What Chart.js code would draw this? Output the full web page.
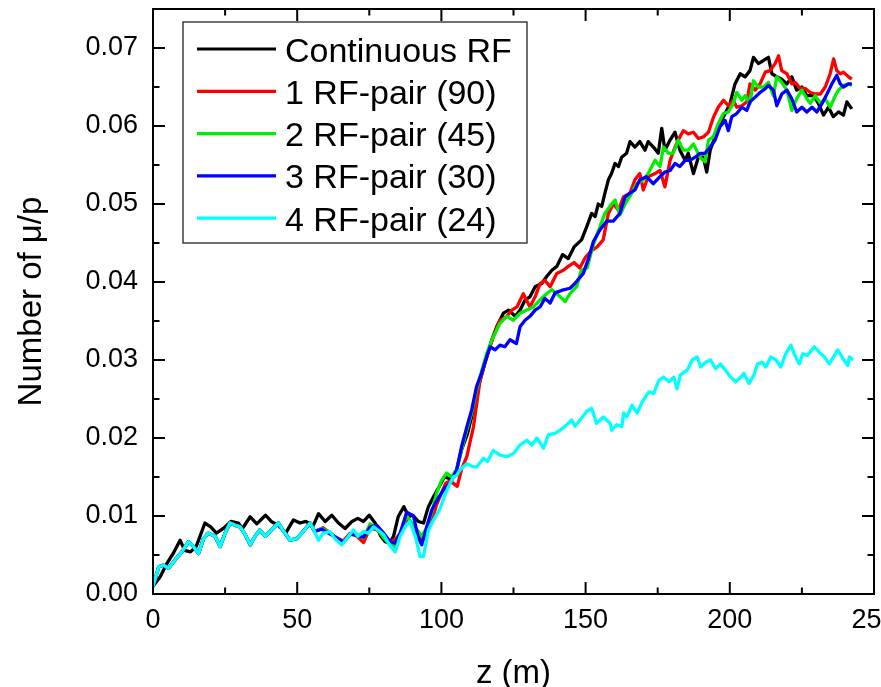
<!DOCTYPE html>
<html>
<head>
<meta charset="utf-8">
<script src="https://cdn.jsdelivr.net/npm/chart.js@4.4.1/dist/chart.umd.min.js"></script>
<style>
  html, body { margin: 0; padding: 0; background: #fff; }
  canvas { display: block; }
</style>
</head>
<body>
<canvas id="c" width="881" height="687"></canvas>
<script>
// ---------------- data ----------------
const seriesNames = ["Continuous RF", "1 RF-pair (90)", "2 RF-pair (45)", "3 RF-pair (30)", "4 RF-pair (24)"];
const xTitle = "z (m)";
const yTitle = "Number of \u03BC/p";
const xTicks = [0, 50, 100, 150, 200, 250];
const xTickLabels = ["0", "50", "100", "150", "200", "250"];
const yTicks = [0, 0.01, 0.02, 0.03, 0.04, 0.05, 0.06, 0.07];
const yTickLabels = ["0.00", "0.01", "0.02", "0.03", "0.04", "0.05", "0.06", "0.07"];

// Continuous RF
const blackZ = [0,2.5,4.8,7,9.4,11,13,15,18,20,22,24.4,27,29.6,31,33.7,36,39,41,43.5,46,48.7,51,53,55.6,57.4,59.7,62,64.3,66.6,69,71,73,75,77,79,80.5,82,83.4,85,87,88.6,90,92,93.8,95.5,97.3,99.6,101,103,105,107,109,111,113,115,117.5,119.2,121.5,123.3,125.6,127.3,129,130.7,132.5,134.8,136.5,138.3,140,142,144,146,148.6,150.4,152.1,153.3,154.4,155.6,156.7,157.9,159,160.2,161.4,162.5,164.2,165.4,167.1,168.8,170.6,171.7,173.5,175.2,176.4,177.5,179.3,181,182.7,184.5,185.6,187.4,189.1,190.8,192,193.2,194.9,196.6,198.4,200.1,201.8,203.6,205.3,207,208.2,209.9,211.7,213.4,214.6,216.3,218,219.8,221.5,223.2,225,226.7,229,230.7,232.5,234.2,235.9,237.7,239.4,240.6,242.3];
const blackV = [.001,.0022,.0039,.0052,.0069,.0056,.0054,.0061,.0091,.0086,.0078,.0084,.0093,.0091,.0084,.0099,.009,.0101,.0093,.0088,.0078,.0095,.0091,.0093,.0088,.0103,.0093,.0101,.0091,.0084,.0093,.0097,.0093,.0101,.0091,.0074,.0067,.0065,.0074,.0099,.0112,.0099,.0101,.0093,.0091,.0112,.0125,.014,.015,.0148,.0155,.0185,.0205,.0235,.0268,.0295,.0326,.0343,.036,.0364,.0356,.0364,.0377,.0381,.0394,.0398,.0407,.0415,.042,.0435,.043,.0445,.0454,.0471,.0488,.0484,.05,.0497,.0514,.0531,.0539,.0552,.0548,.056,.0565,.058,.0573,.058,.0569,.058,.0573,.0565,.0597,.0569,.0582,.0592,.0569,.0556,.0565,.0539,.056,.056,.0541,.0569,.0586,.0603,.0616,.0629,.0654,.0667,.0663,.0671,.0688,.068,.0684,.0688,.0667,.0663,.066,.0654,.0663,.0646,.065,.0639,.0639,.0629,.0614,.0624,.0612,.0618,.0614,.0631,.0622];

// shared early segment (all RF-pair curves overlap the 4-pair curve here)
const earlyZ = [0,2,3.6,5.4,7.7,10,12.3,14,15.8,17.5,19.2,21.5,23.3,25,26.7,28.5,30.2,32,33.7,35.4,37,39,41,43.5,45,47.5,49.9,52,54.5,56];
const earlyV = [.001,.0035,.0037,.0033,.0044,.0054,.0067,.0061,.0052,.0071,.0078,.0074,.0061,.0078,.0091,.0088,.0086,.0076,.0063,.0074,.0082,.0074,.0082,.0091,.0082,.0069,.0071,.008,.0091,.008];

// 1 RF-pair (90)
const redZ = [57.4,59,61.4,63.7,66,68.4,70.7,73,75.3,77.6,80,82.2,84,85.7,88,90.3,92,93.2,94.9,96.7,98.4,100.1,101.5,103,105.5,107,108.8,111.1,113.4,115.7,118,120.3,122.7,124.4,126.2,128.4,130.7,132.5,134.2,135.9,137.7,140,142.3,144,146,148,150,152,154,156.1,157.9,159.6,161.4,163.1,165.4,167.1,168.8,170,171.7,174.1,175.8,177.5,179.3,181,182.7,183.9,185.6,187.4,189.1,190.8,192.6,194.3,196,197.8,199.5,201.2,202.4,204.2,205.9,207,208.8,210.5,212.3,214,215.7,216.9,218,219.8,221.5,222.7,224.4,226.2,227.9,229.6,231.4,233.1,234.8,236,237.1,238.3,239.4,241.2,242.3];
const redV = [.0082,.0085,.0078,.0072,.0068,.0078,.0074,.0066,.0085,.0082,.0076,.0067,.007,.0078,.0095,.0088,.0074,.0068,.008,.0095,.0115,.013,.0142,.0145,.0138,.016,.0176,.0214,.0274,.0304,.033,.0351,.0356,.0364,.0368,.0385,.0368,.0381,.0398,.0402,.0394,.0411,.0415,.042,.0425,.0418,.0432,.044,.0445,.0454,.0488,.05,.0492,.0509,.0514,.0531,.0539,.0518,.0535,.0539,.0543,.0522,.0556,.0573,.0586,.0594,.059,.0592,.0584,.0586,.0592,.0611,.0624,.0633,.0626,.0633,.0624,.0626,.0631,.0654,.0646,.0654,.0669,.0671,.068,.069,.0671,.0667,.0654,.0656,.0648,.0648,.0643,.0641,.0641,.065,.0667,.0686,.0671,.0667,.0669,.0663,.066];

// 2 RF-pair (45)
const greenZ = [57.4,58.5,61.4,63.7,66,68.4,70.7,73,75.3,77.6,80,82.2,84,85.7,88,90.3,92,93.2,94.9,96.7,98.4,100,101.8,103.5,105.3,107,108.8,110.5,112.2,113.9,115.7,117.5,120.3,122.7,125,127.3,129.6,131.9,134.2,136.5,138.3,141.2,142.9,144.6,146.9,148.5,150.5,152.7,155,156.7,158.4,160.2,161.9,163.7,166,167.7,170,171.7,174.1,175.8,177,178.7,180.4,182.1,183.9,185.6,187.4,189.7,191.4,192.6,194.3,196,197.8,199.5,201.2,202.4,204.2,205.3,207,208.2,209.9,211.7,213.4,215.1,216.3,218,219.8,221.5,223.2,225,226.7,227.9,229.6,231.4,233.1,234.8,236.6,237.7,239.4,241.2,242.3];
const greenV = [.0082,.0084,.0079,.0071,.0066,.0076,.0076,.0072,.009,.0084,.0072,.0063,.006,.0078,.01,.0088,.008,.0074,.0085,.0105,.013,.0145,.0155,.015,.016,.0185,.021,.0232,.0262,.0285,.0308,.0326,.0347,.0356,.0351,.036,.0364,.0368,.0377,.0385,.039,.0381,.0375,.0385,.0394,.0415,.0418,.0448,.0471,.0488,.0497,.0505,.0486,.05,.0514,.0526,.0531,.0539,.0556,.0548,.0573,.0565,.0565,.0582,.0569,.0569,.0577,.056,.0554,.0582,.0586,.0603,.0616,.0618,.0629,.0643,.0633,.0639,.0629,.0658,.065,.065,.0656,.0639,.0663,.0656,.0646,.062,.0635,.0646,.0635,.0629,.0639,.0629,.0635,.0624,.0639,.0646,.0652,.0654,.0652];

// 3 RF-pair (30)
const blueZ = [57.4,58.5,61.4,63.7,66,68.4,70.7,73,75.3,77.6,80,82.2,84,85.7,88,90.3,92,93.2,94.9,96.7,98.9,101,103,105.3,107,108.8,110.5,112.2,113.9,115.7,116.9,118.6,120.3,122,123.8,126,127.3,129,130.7,132.5,134.2,135.9,137.7,139.4,142.3,144.6,146.3,149.2,151,152.7,155,157.3,159.6,161.9,163.7,165.4,167.1,168.8,171.1,173.5,175.8,177.5,179.3,181,182.7,184.5,186.2,188,189.7,191.4,193.2,194.9,196.6,198.4,199.5,200.7,202.4,204.2,205.9,207,208.8,210.5,212.3,213.4,215.1,216.3,218,219.8,221.5,223.2,225,226.7,228.5,230.2,232,233.7,235.4,237.1,238.3,239.4,241.2,242.3];
const blueV = [.0082,.0083,.0077,.0072,.0066,.0077,.0075,.0073,.0086,.0088,.0078,.0067,.0065,.0078,.0105,.01,.0072,.0063,.0086,.0108,.0123,.0135,.0142,.0159,.0189,.0214,.0236,.0266,.0283,.0304,.0317,.0313,.0319,.0317,.0326,.0321,.0343,.0351,.0356,.0364,.0368,.0379,.0373,.0386,.039,.0392,.0398,.0411,.043,.0452,.0467,.0478,.0478,.0488,.0509,.0514,.0518,.0531,.0535,.0526,.0535,.0541,.0543,.0552,.0548,.0556,.0556,.056,.0565,.0565,.0573,.0582,.0599,.0607,.0594,.0612,.0616,.0624,.062,.0631,.0637,.0643,.0648,.0652,.0646,.0626,.0641,.0646,.0635,.0618,.0624,.0618,.0624,.0618,.0629,.0641,.0654,.0665,.0654,.065,.0654,.0654];

// 4 RF-pair (24)
const cyanZ = [57.4,59,61.4,63,65.5,67.8,69.5,71,73,74.7,76.5,78,80,82,84,85.7,87.4,89,91,92.6,93.8,95.5,97.3,99.6,101,102.5,104.1,105.3,106.4,108.8,111,112.3,114.6,116,118,120.3,122.7,125,127.3,129.6,131.4,133.1,135.4,137.1,139.4,141.2,142.9,145.2,146.3,148.1,150.4,152.1,153.8,156.2,158.5,159.1,160.8,162.6,163.2,164.3,166.1,167.9,169.6,171.9,173.6,175.4,177.1,178.9,180.6,181.7,182.9,185.2,187,188.7,189.9,191.6,193.3,195.1,196.8,198.5,200.3,202,203.8,204.9,206.7,208.4,209.6,211.3,212.5,214.2,216,217.7,219.4,221.2,222.3,224.1,225.3,227,229.3,231,232.8,234.5,236.3,237.4,239.2,240.9,241.5,242.7];
const cyanV = [.0069,.0078,.008,.0071,.0063,.0074,.0082,.0074,.008,.0078,.0086,.0082,.0076,.0063,.0054,.0074,.0086,.0093,.0074,.0048,.0048,.0082,.0095,.011,.0125,.0138,.015,.0152,.0159,.0167,.0163,.0163,.0174,.017,.0184,.0178,.0176,.018,.0191,.0197,.0191,.02,.0187,.0204,.0206,.021,.0215,.0223,.0215,.0223,.0234,.0238,.0219,.0227,.0219,.021,.0217,.0215,.0232,.0227,.0242,.0232,.0246,.0259,.0257,.0274,.0278,.0272,.0278,.0263,.0281,.0287,.03,.0304,.0291,.0297,.03,.0289,.0295,.0287,.0278,.0272,.0278,.0283,.027,.0281,.0295,.0297,.0291,.0304,.03,.0291,.0308,.0319,.0308,.0295,.0308,.0306,.0317,.031,.0304,.0295,.0306,.0313,.0302,.0293,.0304,.03];

// ---------------- styling ----------------
const seriesColors = ["#000000", "#ff0000", "#00ee00", "#0000ff", "#00ffff"];
const FONT = '"Liberation Sans", Arial, Helvetica, sans-serif';

function pts(zs, vs) { return zs.map((z, i) => ({ x: z, y: vs[i] })); }
const seriesData = [
  pts(blackZ, blackV),
  pts(earlyZ.concat(redZ), earlyV.concat(redV)),
  pts(earlyZ.concat(greenZ), earlyV.concat(greenV)),
  pts(earlyZ.concat(blueZ), earlyV.concat(blueV)),
  pts(earlyZ.concat(cyanZ), earlyV.concat(cyanV))
];

const datasets = seriesNames.map((name, i) => ({
  label: name,
  data: seriesData[i],
  borderColor: seriesColors[i],
  backgroundColor: seriesColors[i],
  borderWidth: 3.3,
  borderJoinStyle: 'round',
  pointRadius: 0,
  tension: 0,
  fill: false,
  order: seriesNames.length - 1 - i
}));

const bgPlugin = {
  id: 'bg',
  beforeDraw(chart) {
    const c = chart.ctx;
    c.save(); c.fillStyle = '#fff'; c.fillRect(0, 0, chart.width, chart.height); c.restore();
  }
};

const framePlugin = {
  id: 'frame',
  afterDatasetsDraw(chart) {
    const c = chart.ctx, a = chart.chartArea;
    const xs = chart.scales.x, ys = chart.scales.y;
    c.save();
    c.strokeStyle = '#000';
    c.lineWidth = 2;
    c.strokeRect(a.left, a.top, a.right - a.left, a.bottom - a.top);
    const MAJ = 12, MIN = 6.5;
    c.beginPath();
    for (let v = 0; v <= 250; v += 25) {
      const px = xs.getPixelForValue(v);
      const len = (v % 50 === 0) ? MAJ : MIN;
      c.moveTo(px, a.bottom); c.lineTo(px, a.bottom - len);
      c.moveTo(px, a.top); c.lineTo(px, a.top + len);
    }
    for (let k = 0; k <= 15; k++) {
      const v = k * 0.005;
      const py = ys.getPixelForValue(v);
      const len = (k % 2 === 0) ? MAJ : MIN;
      c.moveTo(a.left, py); c.lineTo(a.left + len, py);
      c.moveTo(a.right, py); c.lineTo(a.right - len, py);
    }
    c.stroke();
    c.restore();
  }
};

const legendPlugin = {
  id: 'boxLegend',
  afterDraw(chart) {
    const c = chart.ctx;
    const bx = 183, by = 22, bw = 344, bh = 221;
    c.save();
    c.fillStyle = '#fff';
    c.fillRect(bx, by, bw, bh);
    c.strokeStyle = '#222';
    c.lineWidth = 1.3;
    c.strokeRect(bx, by, bw, bh);
    c.font = '34px ' + FONT;
    c.textBaseline = 'alphabetic';
    c.textAlign = 'left';
    chart.data.datasets.forEach((ds, i) => {
      const cy = 49 + i * 42.3;
      c.strokeStyle = ds.borderColor;
      c.lineWidth = 3.2;
      c.beginPath(); c.moveTo(197, cy); c.lineTo(276, cy); c.stroke();
      c.fillStyle = '#000';
      c.fillText(ds.label, 285, cy + 12.5);
    });
    c.restore();
  }
};

const ctx = document.getElementById('c').getContext('2d');
new Chart(ctx, {
  type: 'line',
  data: { datasets },
  options: {
    responsive: false,
    animation: false,
    devicePixelRatio: 1,
    layout: { padding: { top: 9, right: 7, bottom: 0, left: 0 } },
    plugins: { legend: { display: false }, tooltip: { enabled: false } },
    scales: {
      x: {
        type: 'linear', min: 0, max: 250,
        grid: { display: false, drawTicks: false, tickLength: 0 },
        border: { display: false },
        afterBuildTicks: s => { s.ticks = xTicks.map(v => ({ value: v })); },
        afterFit: s => { s.height = 93; s.paddingLeft = 0; s.paddingRight = 0; },
        ticks: {
          autoSkip: false, maxRotation: 0, minRotation: 0, padding: 10, color: '#000',
          font: { family: FONT, size: 27 },
          callback: v => { const i = xTicks.findIndex(t => Math.abs(t - v) < 1e-9); return i >= 0 ? xTickLabels[i] : ''; }
        },
        title: { display: true, text: xTitle, color: '#000', font: { family: FONT, size: 33, lineHeight: 0.8 }, padding: 0 }
      },
      y: {
        type: 'linear', min: 0, max: 0.075,
        grid: { display: false, drawTicks: false, tickLength: 0 },
        border: { display: false },
        afterBuildTicks: s => { s.ticks = yTicks.map(v => ({ value: v })); },
        afterFit: s => { s.width = 153; s.paddingTop = 0; s.paddingBottom = 0; },
        ticks: {
          autoSkip: false, padding: 15, color: '#000',
          font: { family: FONT, size: 27 },
          callback: v => { const i = yTicks.findIndex(t => Math.abs(t - v) < 1e-9); return i >= 0 ? yTickLabels[i] : ''; }
        },
        title: { display: true, text: yTitle, color: '#000', font: { family: FONT, size: 33, lineHeight: 1.2 }, padding: { top: 12, bottom: 0 } }
      }
    }
  },
  plugins: [bgPlugin, framePlugin, legendPlugin]
});
</script>
</body>
</html>
